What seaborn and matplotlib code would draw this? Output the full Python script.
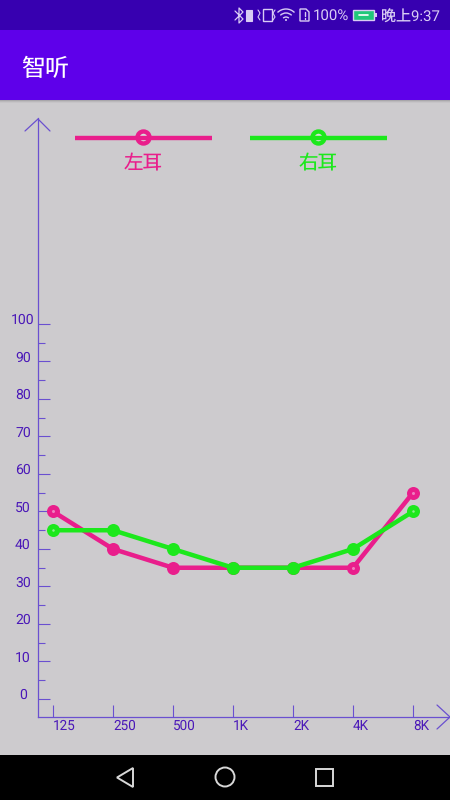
import numpy as np
import seaborn as sns
from matplotlib import pyplot as plt
from matplotlib.patches import Arc, Circle, Polygon, Rectangle
from matplotlib.transforms import ScaledTranslation

#%% data
freq_labels = ['125', '250', '500', '1K', '2K', '4K', '8K']
left_ear = [50, 40, 35, 35, 35, 35, 55]
right_ear = [45, 45, 40, 35, 35, 40, 50]
left_dots = [0, 5, 6]
right_dots = [0, 6]
db_ticks = [0, 10, 20, 30, 40, 50, 60, 70, 80, 90, 100]
db_minor = [5, 15, 25, 35, 45, 55, 65, 75, 85, 95]
left_name = '左耳'
right_name = '右耳'
title = '智听'
status_pct = '100%'
status_time = '晚上9:37'

#%% colours
BG = '#cdcbce'
STATUS = '#3700b0'
BAR = '#5e00ea'
PINK = '#e91e8c'
GREEN = '#1ce81c'
AXIS = '#6a50d0'
LABEL = '#4a18b8'
ICON = '#d8ccf4'

sns.set_theme(style='white')
plt.rcParams['font.family'] = ['Roboto', 'Noto Sans CJK SC', 'DejaVu Sans']
plt.rcParams['text.hinting'] = 'no_hinting'

fig = plt.figure(figsize=(4.5, 8), dpi=100, facecolor=BG)
px = 1 / 100 * 72  # points per pixel

#%% screen furniture, in pixels
bg = fig.add_axes([0, 0, 1, 1], zorder=0)
bg.set_xlim(0, 450)
bg.set_ylim(800, 0)
bg.axis('off')
bg.add_patch(Rectangle((0, 0), 450, 30, color=STATUS, lw=0))
bg.add_patch(Rectangle((0, 30), 450, 70, color=BAR, lw=0))
for i, c in enumerate(['#a8a6aa', '#bab8bb', '#c6c4c7']):
    bg.add_patch(Rectangle((0, 100 + i), 450, 1, color=c, lw=0))
bg.add_patch(Rectangle((0, 755), 450, 45, color='black', lw=0))
bg.text(21, 69, title, color='white', fontsize=24 * px, va='center', ha='left')

# status bar
bg.text(313, 15.5, status_pct, color=ICON, fontsize=15 * px, va='center', ha='left')
bg.text(440, 17.5, status_time, color=ICON, fontsize=15 * px, va='center', ha='right')
bg.plot([235, 243, 239, 239, 243, 235], [11, 19, 23, 8, 12, 20], color=ICON, lw=0.9)
bg.add_patch(Rectangle((246, 10), 6, 11, fc=ICON, ec=ICON, lw=0.8))
bg.add_patch(Rectangle((263, 9), 9, 12, fc='none', ec=ICON, lw=1))
bg.plot([258, 260, 258, 260], [10, 13, 17, 20], color=ICON, lw=0.8)
bg.plot([275, 273, 275, 273], [10, 13, 17, 20], color=ICON, lw=0.8)
for r in [4, 8, 12]:
    bg.add_patch(Arc((286, 21), r * 2, r * 2, theta1=225, theta2=315, color=ICON, lw=1))
bg.add_patch(Circle((286, 20), 1, color=ICON, lw=0))
bg.add_patch(Polygon([(300, 9), (306, 9), (309, 12), (309, 21), (300, 21)], fc='none', ec=ICON, lw=1))
bg.plot([304.5, 304.5], [11.5, 16], color=ICON, lw=1)
bg.plot([304.5, 304.5], [17.5, 19], color=ICON, lw=1)
bg.add_patch(Rectangle((353, 10), 21, 10, fc='#20c87a', ec=ICON, lw=1))
bg.add_patch(Rectangle((375, 13), 1.5, 4, color=ICON, lw=0))
bg.plot([359, 368], [15, 15], color='white', lw=1.2)

# navigation bar
bg.add_patch(Polygon([(133, 768), (133, 787), (117, 777.5)], fc='none', ec='#d8d8d8', lw=1.4))
bg.add_patch(Circle((225, 777), 9.5, fc='none', ec='#d8d8d8', lw=1.4))
bg.add_patch(Rectangle((316, 769), 17, 17, fc='none', ec='#d8d8d8', lw=1.4))

# axis arrow heads
bg.plot([25, 38, 50], [131, 119, 131], color=AXIS, lw=0.9)
bg.plot([437, 450, 437], [705, 717, 729], color=AXIS, lw=0.9)

# key
for x0, x1, cx, c, name in [(75, 212, 143.5, PINK, left_name), (250, 387, 318.5, GREEN, right_name)]:
    bg.plot([x0, x1], [137.5, 137.5], color=c, lw=4.4 * px, solid_capstyle='butt')
    bg.add_patch(Circle((cx, 137.5), 6, fc='#dcdcdc', ec=c, lw=4.4 * px))
    bg.text(cx, 164, name, color=c, fontsize=19.5 * px, ha='center', va='center')

#%% chart, axes spans the two axis lines
ax = fig.add_axes([38 / 450, 1 - 717 / 800, 412 / 450, 599 / 800], zorder=1)
ax.patch.set_alpha(0)

sns.lineplot(x=np.arange(7), y=left_ear, color=PINK, lw=4.5 * px, marker='o', markersize=13 * px,
             markeredgewidth=0, ax=ax, zorder=3)
sns.lineplot(x=np.arange(7), y=right_ear, color=GREEN, lw=4.5 * px, marker='o', markersize=13 * px,
             markeredgewidth=0, ax=ax, zorder=4)
sns.scatterplot(x=left_dots, y=[left_ear[i] for i in left_dots], color='#f080c0', s=(3 * px) ** 2,
                linewidth=0, ax=ax, zorder=5)
sns.scatterplot(x=right_dots, y=[right_ear[i] for i in right_dots], color='#90ee90', s=(2.5 * px) ** 2,
                linewidth=0, ax=ax, zorder=5)

ax.set_xlim(-0.25, 6.6167)
ax.set_ylim(-4.8, 154.93)
ax.set_xlabel('')
ax.set_ylabel('')
sns.despine(ax=ax)
for s in ['left', 'bottom']:
    ax.spines[s].set_color(AXIS)
    ax.spines[s].set_linewidth(0.9)

ax.set_xticks(np.arange(7), freq_labels)
ax.set_yticks(db_ticks, [str(v) for v in db_ticks])
ax.set_yticks(db_minor, minor=True)
ax.tick_params(axis='x', which='major', direction='in', length=12 * px, width=0.8, color=AXIS,
               labelcolor=LABEL, labelsize=13.5 * px, pad=2 * px, bottom=True)
ax.tick_params(axis='y', which='major', direction='in', length=12 * px, width=0.8, color=AXIS,
               labelcolor=LABEL, labelsize=14 * px, pad=15 * px, left=True)
ax.tick_params(axis='y', which='minor', direction='in', length=7 * px, width=0.8, color=AXIS, left=True)

for t in ax.get_xticklabels():
    t.set_ha('left')
for t in ax.get_yticklabels():
    t.set_ha('center')
    t.set_transform(t.get_transform() + ScaledTranslation(0, 5 / 100, fig.dpi_scale_trans))

fig.savefig('out.png', dpi=100, facecolor=BG)
